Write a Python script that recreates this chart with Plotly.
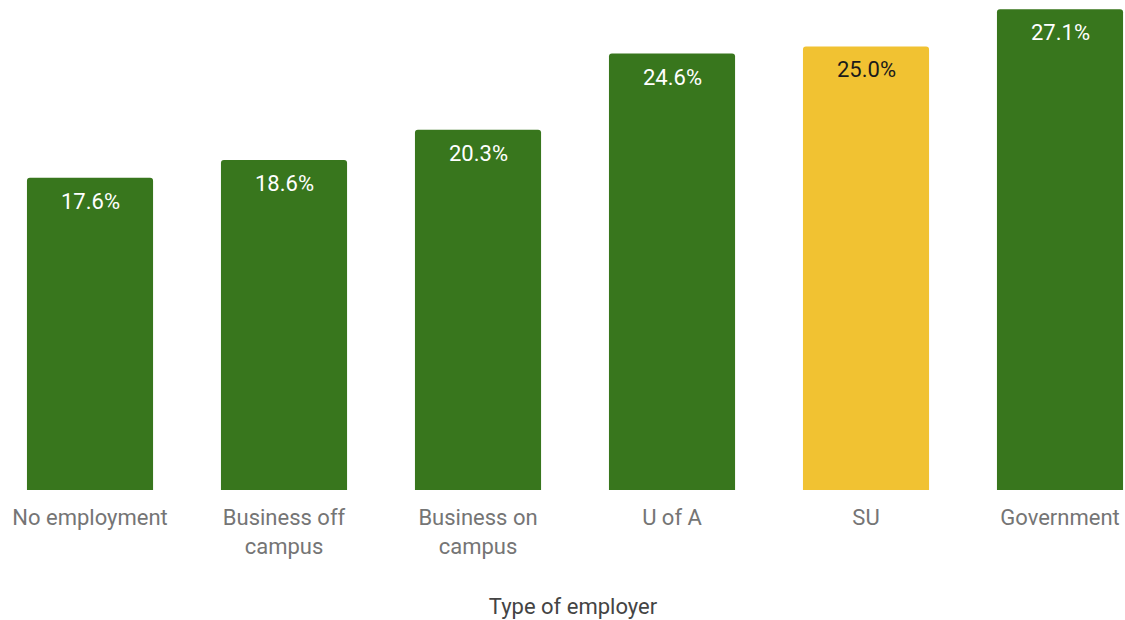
import plotly.graph_objects as go

# Share of respondents by type of employer
categories = ["No employment", "Business off<br>campus", "Business on<br>campus",
              "U of A", "SU", "Government"]
values = [17.6, 18.6, 20.3, 24.6, 25.0, 27.1]
highlight = "SU"

GREEN = "#38761d"
YELLOW = "#f1c232"

positions = list(range(len(categories)))
colors = [YELLOW if c == highlight else GREEN for c in categories]
text_colors = ["#1a1a1a" if c == highlight else "#ffffff" for c in categories]

fig = go.Figure(
    go.Bar(
        x=positions,
        y=values,
        width=0.65,
        marker=dict(color=colors, cornerradius=3, line=dict(width=0)),
        hoverinfo="skip",
    )
)

# value labels just inside the top of each bar
for x, v, tc in zip(positions, values, text_colors):
    fig.add_annotation(
        x=x, y=v, xref="x", yref="y",
        text=f"{v:.1f}%",
        showarrow=False,
        yanchor="top",
        yshift=-9,
        font=dict(family="Roboto", size=22, color=tc),
    )

fig.update_layout(
    width=1125,
    height=620,
    margin=dict(l=21, r=0, t=0, b=130),
    paper_bgcolor="white",
    plot_bgcolor="white",
    font=dict(family="Roboto", color="#757575"),
    showlegend=False,
)

fig.update_xaxes(
    range=[-0.3557, 5.335],
    tickmode="array",
    tickvals=positions,
    ticktext=categories,
    tickfont=dict(family="Roboto", size=22, color="#757575"),
    ticks="",
    showgrid=False,
    zeroline=False,
    showline=False,
    ticklabelstandoff=12,
    title=dict(text="Type of employer",
               font=dict(family="Roboto", size=22, color="#444444"),
               standoff=41),
)

fig.update_yaxes(
    range=[0, 27.62],
    visible=False,
    showgrid=False,
    zeroline=False,
)

fig.write_html("out.html")
